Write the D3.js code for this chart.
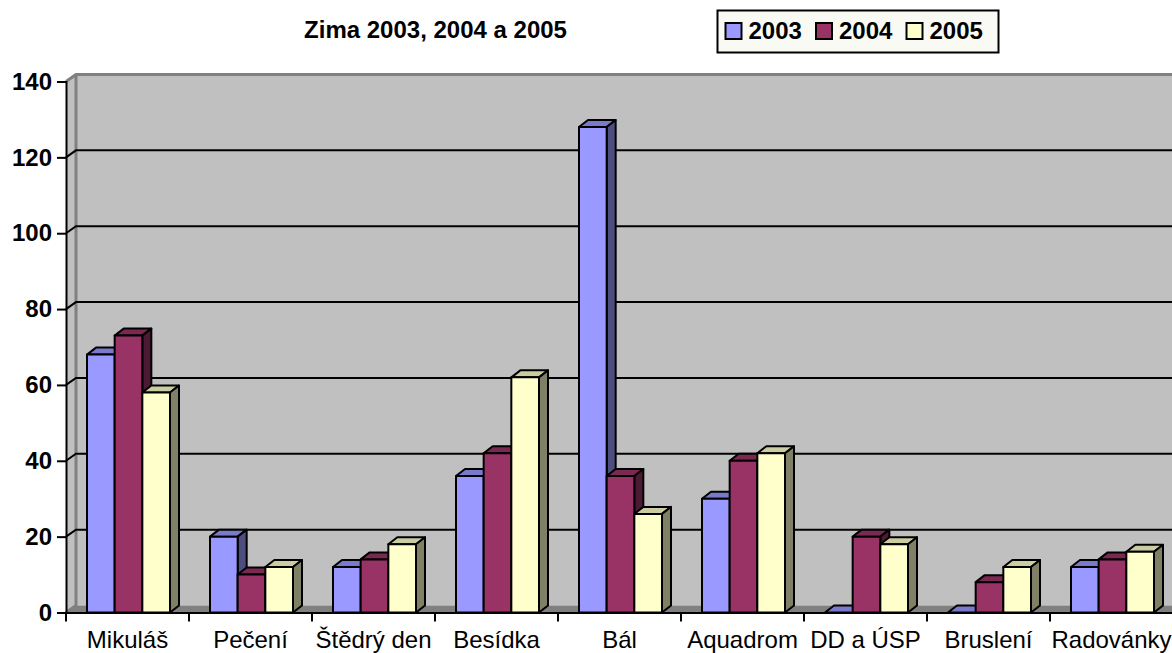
<!DOCTYPE html>
<html>
<head>
<meta charset="utf-8">
<script src="https://d3js.org/d3.v7.min.js"></script>
<style>
  html, body { margin: 0; padding: 0; background: #fff; overflow: hidden; }
  svg { display: block; font-family: "Liberation Sans", Arial, sans-serif; }
</style>
</head>
<body>
<div id="wrapper"></div>
<script>
const categories = ["Mikuláš", "Pečení", "Štědrý den", "Besídka", "Bál", "Aquadrom", "DD a ÚSP", "Bruslení", "Radovánky"];
const seriesNames = ["2003", "2004", "2005"];
const values2003 = [68, 20, 12, 36, 128, 30, 0, 0, 12];
const values2004 = [73, 10, 14, 42, 36, 40, 20, 8, 14];
const values2005 = [58, 12, 18, 62, 26, 42, 18, 12, 16];
const yTicks = [0, 20, 40, 60, 80, 100, 120, 140];
const frontColors = ["#9999ff", "#993366", "#ffffcc"];
const topColors = ["#7a7acc", "#7a2952", "#cccca3"];
const sideColors = ["#4d4d80", "#4d1a33", "#808066"];

const width = 1172;
const height = 653;
const margin = { top: 81.5, bottom: 40.5, left: 66, right: -1 };
// offset of the back wall, the fake 3d depth
const depthX = 10;
const depthY = -7;
const barDepthX = 9;

const svg = d3.select("#wrapper")
  .append("svg")
  .attr("width", width)
  .attr("height", height)
  .attr("viewBox", [0, 0, width, height]);

const x = d3.scaleBand()
  .domain(categories)
  .range([margin.left, width - margin.right]);

const xBar = d3.scaleBand()
  .domain(seriesNames)
  .range([21, 104]);

const y = d3.scaleLinear()
  .domain([0, 140])
  .range([height - margin.bottom, margin.top]);

const right = width - margin.right + 12;
const poly = pts => pts.map(p => p.join(",")).join(" ");

// walls
svg.append("polygon")
  .attr("points", poly([[x.range()[0] + depthX, y(140) + depthY], [right, y(140) + depthY], [right, y(0) + depthY], [x.range()[0] + depthX, y(0) + depthY]]))
  .attr("fill", "#c0c0c0");
svg.append("polygon")
  .attr("points", poly([[x.range()[0], y(140)], [x.range()[0] + depthX, y(140) + depthY], [x.range()[0] + depthX, y(0) + depthY], [x.range()[0], y(0)]]))
  .attr("fill", "#c0c0c0");
svg.append("polygon")
  .attr("points", poly([[x.range()[0], y(0)], [x.range()[0] + depthX, y(0) + depthY], [right, y(0) + depthY], [right, y(0)]]))
  .attr("fill", "#808080");

// wall edges
svg.append("path")
  .attr("d", `M${x.range()[0]},${y(140)}L${x.range()[0] + depthX},${y(140) + depthY}H${right}M${x.range()[0] + depthX},${y(140) + depthY}V${y(0) + depthY}L${x.range()[0]},${y(0)}`)
  .attr("fill", "none")
  .attr("stroke", "#808080")
  .attr("stroke-width", 3);

// gridlines, run over the left wall and then along the back wall
svg.append("g")
  .selectAll("path")
  .data(yTicks.filter(d => d > 0 && d < 140))
  .join("path")
  .attr("d", d => `M${x.range()[0]},${y(d)}L${x.range()[0] + depthX},${y(d) + depthY}H${right}`)
  .attr("fill", "none")
  .attr("stroke", "#000")
  .attr("stroke-width", 2);

// bars
const rows = [];
categories.forEach((c, i) => {
  rows.push({ c, s: "2003", k: 0, v: values2003[i] });
  rows.push({ c, s: "2004", k: 1, v: values2004[i] });
  rows.push({ c, s: "2005", k: 2, v: values2005[i] });
});

const bar = svg.append("g")
  .attr("stroke", "#000")
  .attr("stroke-width", 2)
  .attr("stroke-linejoin", "round")
  .selectAll("g")
  .data(rows)
  .join("g");

const x0 = d => x(d.c) + xBar(d.s);
const x1 = d => x0(d) + xBar.bandwidth();

bar.append("polygon")
  .attr("fill", d => topColors[d.k])
  .attr("points", d => poly([[x0(d), y(d.v)], [x0(d) + barDepthX, y(d.v) + depthY], [x1(d) + barDepthX, y(d.v) + depthY], [x1(d), y(d.v)]]));
bar.filter(d => d.v > 0).append("polygon")
  .attr("fill", d => sideColors[d.k])
  .attr("points", d => poly([[x1(d), y(d.v)], [x1(d) + barDepthX, y(d.v) + depthY], [x1(d) + barDepthX, y(0) + depthY], [x1(d), y(0)]]));
bar.filter(d => d.v > 0).append("rect")
  .attr("x", x0)
  .attr("y", d => y(d.v))
  .attr("width", xBar.bandwidth())
  .attr("height", d => y(0) - y(d.v))
  .attr("fill", d => frontColors[d.k]);

// axes
const yAxis = g => {
  g.attr("transform", `translate(${margin.left},0)`)
    .call(d3.axisLeft(y).tickValues(yTicks).tickSize(9).tickPadding(5))
    .attr("font-size", 24)
    .attr("font-family", "Liberation Sans")
    .attr("font-weight", "bold");
  g.selectAll("path, line").attr("stroke", "#000").attr("stroke-width", 2);
  g.selectAll("text").attr("fill", "#000");
};
const xAxis = g => {
  g.attr("transform", `translate(0,${height - margin.bottom})`)
    .call(d3.axisBottom(x).tickSize(0).tickPadding(18))
    .attr("font-size", 24)
    .attr("font-family", "Liberation Sans");
  g.select("path").attr("stroke", "#000").attr("stroke-width", 2);
  g.selectAll("text").attr("fill", "#000");
  // tick marks sit between the categories
  g.selectAll("line.sep")
    .data(categories)
    .join("line")
    .attr("class", "sep")
    .attr("x1", d => x(d))
    .attr("x2", d => x(d))
    .attr("y2", 9)
    .attr("stroke", "#000")
    .attr("stroke-width", 2);
};
svg.append("g").call(yAxis);
svg.append("g").call(xAxis);

// title
svg.append("text")
  .attr("x", 435.5)
  .attr("y", 38)
  .attr("text-anchor", "middle")
  .attr("font-size", 24)
  .attr("font-weight", "bold")
  .text("Zima 2003, 2004 a 2005");

// legend
const legend = svg.append("g");
legend.append("rect")
  .attr("x", 717.5).attr("y", 10.5)
  .attr("width", 281).attr("height", 42)
  .attr("fill", "#fafaf5")
  .attr("stroke", "#000")
  .attr("stroke-width", 2);
const legendX = d3.scalePoint().domain(seriesNames).range([725.5, 906.5]);
const item = legend.selectAll("g")
  .data(seriesNames)
  .join("g")
  .attr("transform", d => `translate(${legendX(d)},0)`);
item.append("rect")
  .attr("y", 23)
  .attr("width", 16)
  .attr("height", 16)
  .attr("fill", (d, i) => frontColors[i])
  .attr("stroke", "#000")
  .attr("stroke-width", 2);
item.append("text")
  .attr("x", 23)
  .attr("y", 39)
  .attr("font-size", 24)
  .attr("font-weight", "bold")
  .text(d => d);
</script>
</body>
</html>
